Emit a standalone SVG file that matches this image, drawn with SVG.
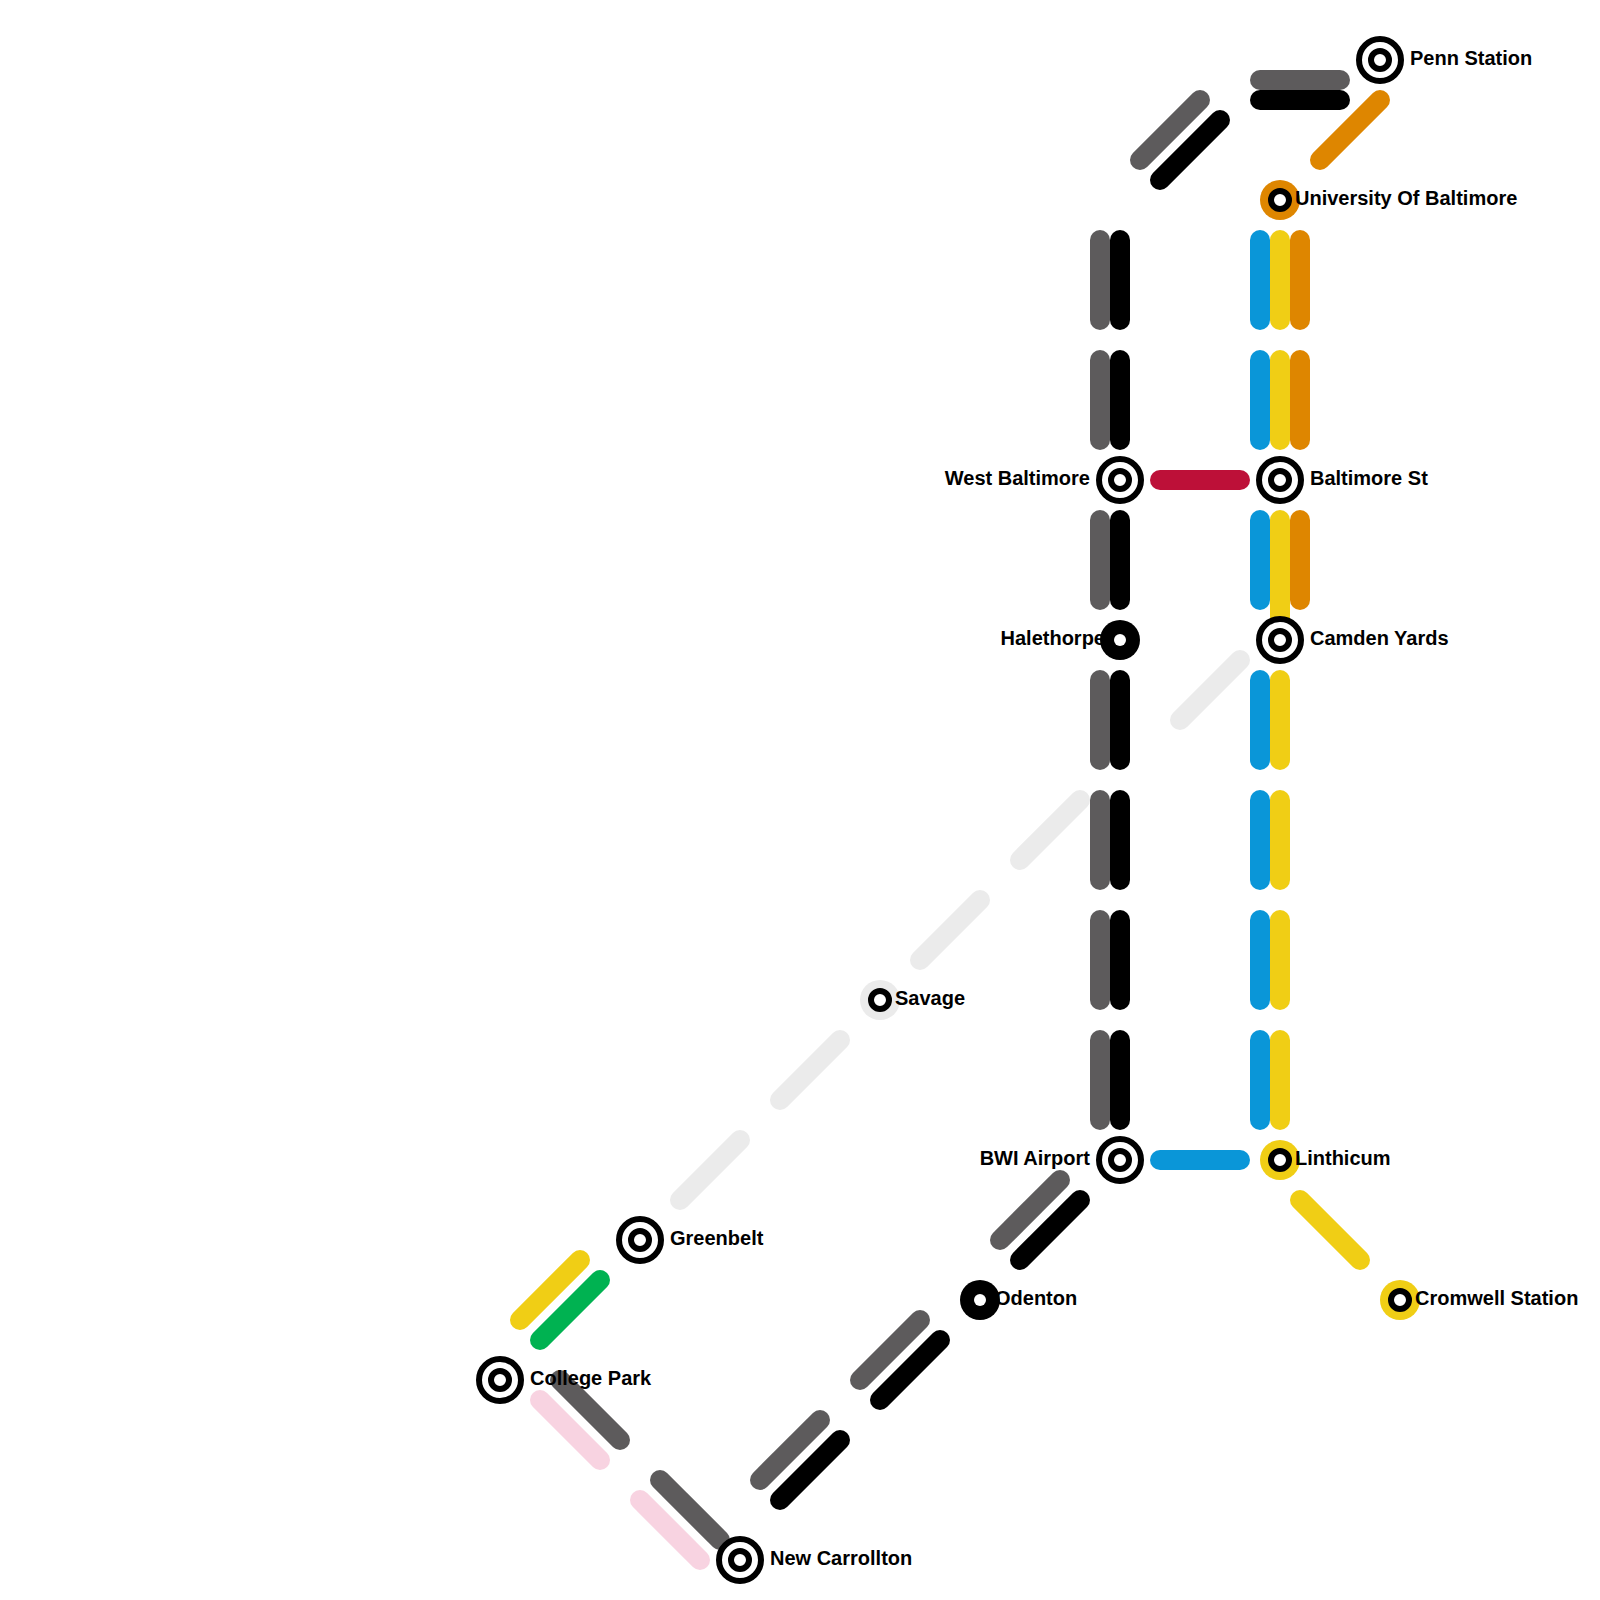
<svg xmlns="http://www.w3.org/2000/svg" width="1600" height="1600" viewBox="0 0 1600 1600">
<style>
text{font-family:"Liberation Sans",Arial,sans-serif;font-size:20px;font-weight:700;fill:#000}
.e{text-anchor:end}
#connectors line{stroke-width:20;stroke-linecap:round;fill:none}
.gr{stroke:#5d5b5c}.bk{stroke:#000}.bl{stroke:#0a96d8}.ye{stroke:#f0ce15}.or{stroke:#de8600}.rd{stroke:#bd1038}.gn{stroke:#00b251}.pk{stroke:#f8d3e1}.lg{stroke:#ebebeb}
.o{fill:#fff;stroke:#000;stroke-width:6}
.c{fill:#fff;stroke:#000;stroke-width:6}
</style>
<defs>
<g id="inter"><circle class="o" r="21"/><circle class="c" r="9"/></g>
</defs>
<rect width="1600" height="1600" fill="#fff"/>
<g id="connectors">
<line class="gr" x1="1100" y1="240" x2="1100" y2="320"/><line class="bk" x1="1120" y1="240" x2="1120" y2="320"/>
<line class="gr" x1="1100" y1="360" x2="1100" y2="440"/><line class="bk" x1="1120" y1="360" x2="1120" y2="440"/>
<line class="gr" x1="1100" y1="520" x2="1100" y2="600"/><line class="bk" x1="1120" y1="520" x2="1120" y2="600"/>
<line class="gr" x1="1100" y1="680" x2="1100" y2="760"/><line class="bk" x1="1120" y1="680" x2="1120" y2="760"/>
<line class="gr" x1="1100" y1="800" x2="1100" y2="880"/><line class="bk" x1="1120" y1="800" x2="1120" y2="880"/>
<line class="gr" x1="1100" y1="920" x2="1100" y2="1000"/><line class="bk" x1="1120" y1="920" x2="1120" y2="1000"/>
<line class="gr" x1="1100" y1="1040" x2="1100" y2="1120"/><line class="bk" x1="1120" y1="1040" x2="1120" y2="1120"/>
<line class="bl" x1="1260" y1="240" x2="1260" y2="320"/><line class="or" x1="1300" y1="240" x2="1300" y2="320"/><line class="ye" x1="1280" y1="240" x2="1280" y2="320"/>
<line class="bl" x1="1260" y1="360" x2="1260" y2="440"/><line class="or" x1="1300" y1="360" x2="1300" y2="440"/><line class="ye" x1="1280" y1="360" x2="1280" y2="440"/>
<line class="bl" x1="1260" y1="520" x2="1260" y2="600"/><line class="or" x1="1300" y1="520" x2="1300" y2="600"/><line class="ye" x1="1280" y1="520" x2="1280" y2="625"/>
<line class="bl" x1="1260" y1="680" x2="1260" y2="760"/><line class="ye" x1="1280" y1="680" x2="1280" y2="760"/>
<line class="bl" x1="1260" y1="800" x2="1260" y2="880"/><line class="ye" x1="1280" y1="800" x2="1280" y2="880"/>
<line class="bl" x1="1260" y1="920" x2="1260" y2="1000"/><line class="ye" x1="1280" y1="920" x2="1280" y2="1000"/>
<line class="bl" x1="1260" y1="1040" x2="1260" y2="1120"/><line class="ye" x1="1280" y1="1040" x2="1280" y2="1120"/>
<line class="rd" x1="1160" y1="480" x2="1240" y2="480"/>
<line class="bl" x1="1160" y1="1160" x2="1240" y2="1160"/>
<line class="gr" x1="1260" y1="80" x2="1340" y2="80"/><line class="bk" x1="1260" y1="100" x2="1340" y2="100"/>
<line class="gr" x1="1140" y1="160" x2="1200" y2="100"/><line class="bk" x1="1160" y1="180" x2="1220" y2="120"/>
<line class="or" x1="1320" y1="160" x2="1380" y2="100"/>
<line class="lg" x1="1180" y1="720" x2="1240" y2="660"/>
<line class="lg" x1="1020" y1="860" x2="1080" y2="800"/>
<line class="lg" x1="920" y1="960" x2="980" y2="900"/>
<line class="lg" x1="780" y1="1100" x2="840" y2="1040"/>
<line class="lg" x1="680" y1="1200" x2="740" y2="1140"/>
<line class="ye" x1="520" y1="1320" x2="580" y2="1260"/>
<line class="gn" x1="540" y1="1340" x2="600" y2="1280"/>
<line class="gr" x1="560" y1="1380" x2="620" y2="1440"/>
<line class="pk" x1="540" y1="1400" x2="600" y2="1460"/>
<line class="gr" x1="660" y1="1480" x2="720" y2="1540"/>
<line class="pk" x1="640" y1="1500" x2="700" y2="1560"/>
<line class="gr" x1="760" y1="1480" x2="820" y2="1420"/><line class="bk" x1="780" y1="1500" x2="840" y2="1440"/>
<line class="gr" x1="860" y1="1380" x2="920" y2="1320"/><line class="bk" x1="880" y1="1400" x2="940" y2="1340"/>
<line class="gr" x1="1000" y1="1240" x2="1060" y2="1180"/><line class="bk" x1="1020" y1="1260" x2="1080" y2="1200"/>
<line class="ye" x1="1300" y1="1200" x2="1360" y2="1260"/>
</g>
<g id="penn-station"><use href="#inter" x="1380" y="60"/><text x="1410" y="65">Penn Station</text></g>
<g id="university-of-baltimore"><circle cx="1280" cy="200" r="20" fill="#de8600"/><circle class="c" cx="1280" cy="200" r="9"/><text x="1295" y="205">University Of Baltimore</text></g>
<g id="west-baltimore"><use href="#inter" x="1120" y="480"/><text class="e" x="1090" y="485">West Baltimore</text></g>
<g id="baltimore-st"><use href="#inter" x="1280" y="480"/><text x="1310" y="485">Baltimore St</text></g>
<g id="halethorpe"><circle cx="1120" cy="640" r="20" fill="#000"/><circle cx="1120" cy="640" r="6" fill="#fff"/><text class="e" x="1105" y="645">Halethorpe</text></g>
<g id="camden-yards"><use href="#inter" x="1280" y="640"/><text x="1310" y="645">Camden Yards</text></g>
<g id="savage"><circle cx="880" cy="1000" r="20" fill="#ebebeb"/><circle class="c" cx="880" cy="1000" r="9"/><text x="895" y="1005">Savage</text></g>
<g id="bwi-airport"><use href="#inter" x="1120" y="1160"/><text class="e" x="1090" y="1165">BWI Airport</text></g>
<g id="linthicum"><circle cx="1280" cy="1160" r="20" fill="#f0ce15"/><circle class="c" cx="1280" cy="1160" r="9"/><text x="1295" y="1165">Linthicum</text></g>
<g id="greenbelt"><use href="#inter" x="640" y="1240"/><text x="670" y="1245">Greenbelt</text></g>
<g id="odenton"><circle cx="980" cy="1300" r="20" fill="#000"/><circle cx="980" cy="1300" r="6" fill="#fff"/><text x="995" y="1305">Odenton</text></g>
<g id="cromwell-station"><circle cx="1400" cy="1300" r="20" fill="#f0ce15"/><circle class="c" cx="1400" cy="1300" r="9"/><text x="1415" y="1305">Cromwell Station</text></g>
<g id="college-park"><use href="#inter" x="500" y="1380"/><text x="530" y="1385">College Park</text></g>
<g id="new-carrollton"><use href="#inter" x="740" y="1560"/><text x="770" y="1565">New Carrollton</text></g>
</svg>
